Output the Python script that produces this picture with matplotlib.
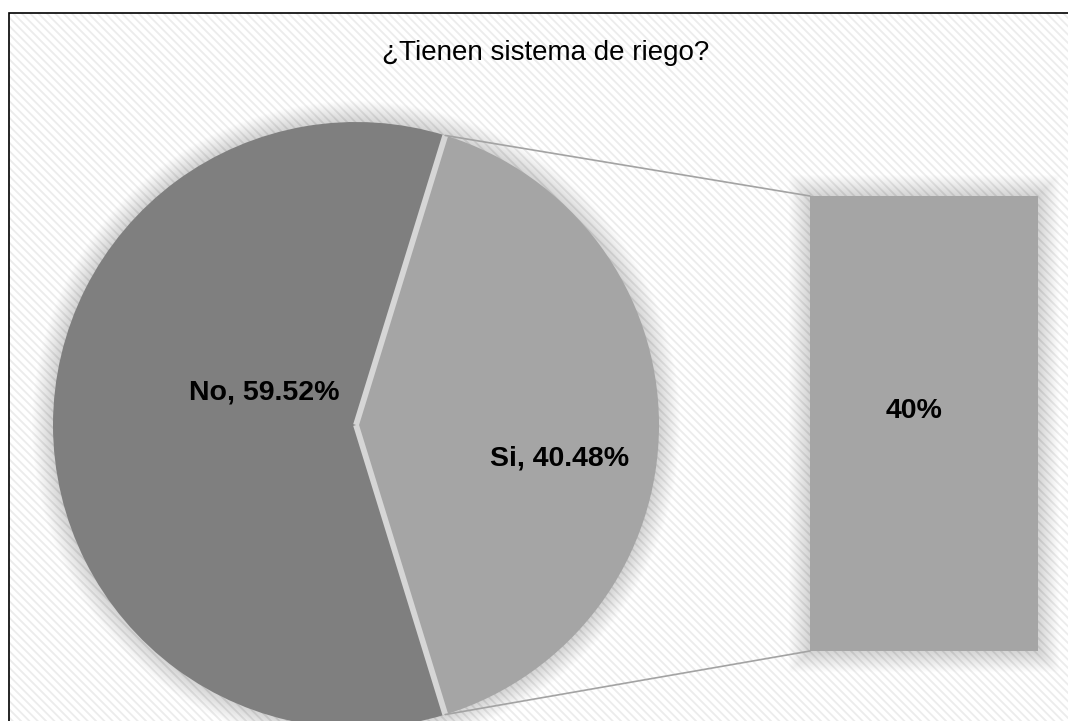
import numpy as np
import matplotlib
matplotlib.use("Agg")
import matplotlib.pyplot as plt
from matplotlib.patches import Rectangle, Circle
from matplotlib.patches import ConnectionPatch

plt.rcParams['font.family'] = ['Liberation Sans', 'DejaVu Sans']
plt.rcParams['hatch.linewidth'] = 1.3

# Datos de la encuesta
titulo = "¿Tienen sistema de riego?"
categorias = ["No", "Si"]
porcentajes = [59.52, 40.48]
colores = ["#7f7f7f", "#a5a5a5"]

W, H = 1068, 721
fig = plt.figure(figsize=(W / 100, H / 100), dpi=100)
ax = fig.add_axes([0, 0, 1, 1])
ax.set_xlim(0, W)
ax.set_ylim(0, H)
ax.axis('off')

# fondo rayado y marco
ax.add_patch(Rectangle((9, -20), W + 20, H - 13 + 20, facecolor='white',
                       edgecolor='#ececec', linewidth=0, hatch='\\' * 4, zorder=0))
ax.add_patch(Rectangle((9, -20), W + 20, H - 13 + 20, fill=False,
                       edgecolor='black', linewidth=1.2, zorder=10))

# geometria del circulo y de la barra (pixeles)
cx, cy, r = 356, 296, 303
bx, by, bw, bh = 810, 70, 228, 455

# sombra difusa
for i in range(1, 22):
    ax.add_patch(Circle((cx, cy), r + i, color='black', alpha=0.007,
                        linewidth=0, zorder=1))
    ax.add_patch(Rectangle((bx - i, by - i), bw + 2 * i, bh + 2 * i,
                           color='black', alpha=0.007, linewidth=0, zorder=1))

# el sector "Si" queda centrado hacia la derecha
si = porcentajes[1]
inicio = -si / 100 * 360 / 2
wedges, _ = ax.pie([porcentajes[1], porcentajes[0]],
                   colors=[colores[1], colores[0]],
                   startangle=inicio, counterclock=True,
                   radius=r, center=(cx, cy), frame=True,
                   wedgeprops=dict(linewidth=0, zorder=2))
ax.set_xlim(0, W)
ax.set_ylim(0, H)
ax.axis('off')

# separacion entre sectores
for ang in (inicio, -inicio):
    a = np.deg2rad(ang)
    ax.plot([cx, cx + r * np.cos(a)], [cy, cy + r * np.sin(a)],
            color='#d6d6d6', linewidth=4.2, solid_capstyle='butt', zorder=3)

# barra del desglose
axb = fig.add_axes([bx / W, by / H, bw / W, bh / H])
axb.bar(0, si, width=1, color=colores[1], zorder=2)
axb.set_xlim(-0.5, 0.5)
axb.set_ylim(0, si)
axb.axis('off')
axb.text(914 / W, (H - 418) / H, f"{si:.0f}%", transform=fig.transFigure,
         ha='center', va='baseline', fontsize=20.5, fontweight='bold',
         zorder=11)

# lineas de union
for ang, yb in ((-inicio, si), (inicio, 0)):
    a = np.deg2rad(ang)
    con = ConnectionPatch(xyA=(cx + r * np.cos(a), cy + r * np.sin(a)),
                          coordsA=ax.transData, xyB=(-0.5, yb),
                          coordsB=axb.transData, color='#a3a3a3',
                          linewidth=1.2, zorder=4)
    fig.add_artist(con)

# textos
ax.text(546, H - 60, titulo, ha='center', va='baseline', fontsize=20,
        color='black', zorder=11)
ax.text(264, H - 400, f"{categorias[0]}, {porcentajes[0]:.2f}%", ha='center',
        va='baseline', fontsize=20.5, fontweight='bold', zorder=11)
ax.text(560, H - 466, f"{categorias[1]}, {porcentajes[1]:.2f}%", ha='center',
        va='baseline', fontsize=20.5, fontweight='bold', zorder=11)

fig.savefig("out.png", dpi=100)
